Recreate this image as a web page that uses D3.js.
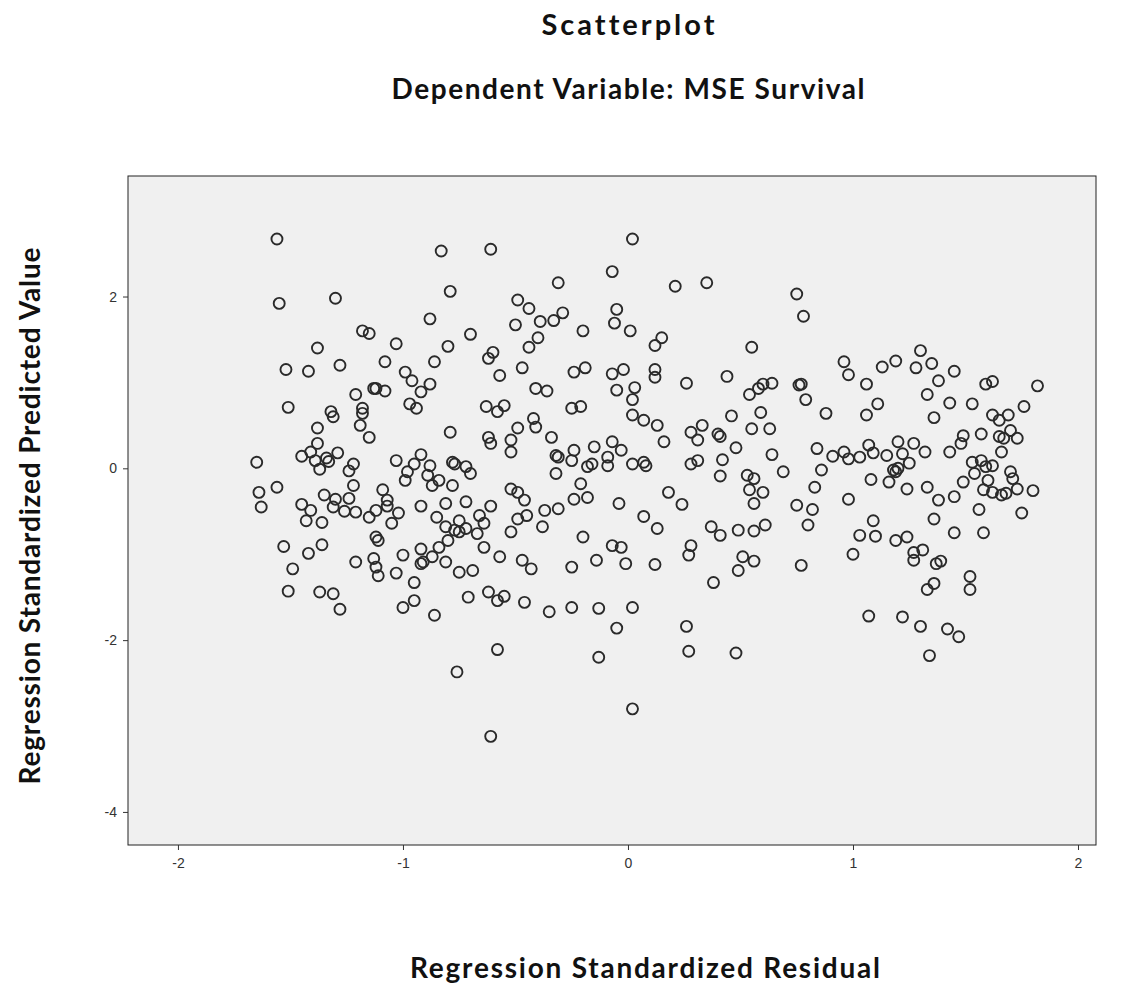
<!DOCTYPE html>
<html>
<head>
<meta charset="utf-8">
<script src="https://cdn.jsdelivr.net/npm/d3@7"></script>
<style>
  body { margin: 0; background: #fff; }
  text { font-family: "Liberation Sans", Arial, sans-serif; }
  .title { font-family: Lato, "Liberation Sans", sans-serif; font-weight: bold; fill: #111; font-variant-ligatures: none; }
</style>
</head>
<body>
<svg id="chart"></svg>
<script>
const title = "Scatterplot";
const subtitle = "Dependent Variable: MSE Survival";
const xTitle = "Regression Standardized Residual";
const yTitle = "Regression Standardized Predicted Value";

const xTicks = [-2, -1, 0, 1, 2];
const yTicks = [-4, -2, 0, 2];

// regression standardized residual (x)
const residual = [
  -1.56,-0.83,-1.55,-1.30,-0.79,-0.88,-1.18,-1.15,-1.38,-1.03,
  -0.80,-1.52,-1.42,-1.28,-1.08,-0.86,-0.99,-0.96,-0.88,-1.21,
  -1.13,-1.12,-1.08,-0.92,-0.61,0.02,-0.07,-0.31,-0.49,-0.44,
  -0.50,-0.39,-0.33,-0.29,-0.05,-0.06,0.01,-0.20,-0.70,-0.40,
  -0.44,-0.60,-0.62,-0.57,-0.47,-0.24,-0.19,-0.07,-0.02,-0.41,
  -0.36,-0.05,0.03,0.21,0.35,0.75,0.78,0.15,0.12,0.55,
  0.12,0.12,0.26,0.44,0.54,0.58,0.60,0.64,0.76,0.77,
  0.96,0.98,0.79,1.30,1.19,1.13,1.28,1.35,1.45,1.38,
  1.06,1.59,1.62,1.82,1.33,-1.51,-1.32,-1.31,-1.18,-1.18,
  -0.97,-0.94,-1.38,-1.19,-1.15,-1.38,-1.45,-1.41,-1.39,-1.34,
  -1.33,-1.29,-1.37,-1.65,-1.24,-1.22,-1.22,-1.03,-0.95,-0.98,
  -0.99,-0.92,-0.88,-0.89,-0.87,-0.84,-1.64,-1.56,-1.63,-1.35,
  -1.45,-1.41,-1.43,-1.36,-1.30,-1.31,-1.26,-1.24,-1.21,-1.09,
  -1.07,-1.07,-1.15,-1.12,-1.02,-1.05,-0.92,-0.85,-1.12,-1.11,
  -1.53,-1.36,-1.42,-1.21,-1.13,-1.12,-1.00,-0.92,-0.87,-0.92,
  -0.91,-0.84,-1.49,-1.11,-1.03,-0.63,-0.58,-0.55,-0.25,-0.21,
  0.02,0.07,0.02,-0.79,-0.62,-0.61,-0.52,-0.49,-0.52,-0.42,
  -0.41,-0.34,-0.32,-0.31,-0.32,-0.25,-0.24,-0.15,-0.18,-0.16,
  -0.07,-0.03,-0.09,-0.09,0.02,0.07,0.08,-0.78,-0.77,-0.72,
  -0.70,-0.78,-0.52,-0.49,-0.46,-0.21,-0.24,-0.18,-0.04,-0.81,
  -0.72,-0.61,-0.66,-0.75,-0.77,-0.75,-0.72,-0.64,-0.67,-0.81,
  -0.80,-0.49,-0.45,-0.37,-0.31,-0.38,-0.52,-0.64,-0.20,0.07,
  -0.07,-0.03,-0.01,-0.57,-0.47,-0.43,-0.25,-0.14,-0.81,-0.75,
  -0.69,0.13,0.16,0.28,0.33,0.31,0.40,0.41,0.46,0.55,
  0.59,0.63,0.48,0.42,0.28,0.31,0.64,0.41,0.53,0.56,
  0.54,0.60,0.56,0.69,0.88,0.84,0.91,0.96,0.98,0.86,
  0.83,0.18,0.24,0.75,0.82,0.80,0.98,0.13,0.37,0.41,
  0.49,0.56,0.61,0.28,0.27,0.51,0.56,0.49,0.77,0.12,
  1.00,1.11,1.06,1.36,1.43,1.53,1.76,1.62,1.65,1.69,
  1.57,1.49,1.48,1.43,1.65,1.67,1.70,1.73,1.66,1.20,
  1.27,1.07,1.09,1.03,1.15,1.22,1.25,1.32,1.18,1.19,
  1.20,1.08,1.16,1.24,1.33,1.38,1.45,1.49,1.53,1.57,
  1.59,1.62,1.54,1.60,1.58,1.62,1.66,1.68,1.70,1.71,
  1.73,1.80,1.56,1.75,1.36,1.09,1.03,1.10,1.19,1.24,
  1.45,1.58,1.27,1.31,1.27,1.37,1.39,1.52,-0.95,-0.95,
  -1.00,-0.86,-1.51,-1.37,-1.31,-1.28,-0.71,-0.62,-0.58,-0.55,
  -0.46,-0.35,-0.25,-0.13,0.02,-0.05,-0.58,-0.76,-0.13,0.02,
  -0.61,0.38,0.26,0.27,0.48,1.33,1.36,1.52,1.07,1.22,
  1.30,1.42,1.47,1.34
];

// regression standardized predicted value (y)
const predicted = [
  2.67,2.53,1.92,1.98,2.06,1.74,1.60,1.57,1.40,1.45,
  1.42,1.15,1.13,1.20,1.24,1.24,1.12,1.02,0.98,0.86,
  0.93,0.93,0.90,0.89,2.55,2.67,2.29,2.16,1.96,1.86,
  1.67,1.71,1.72,1.81,1.85,1.69,1.60,1.60,1.56,1.52,
  1.41,1.35,1.28,1.08,1.17,1.12,1.17,1.10,1.15,0.93,
  0.90,0.91,0.94,2.12,2.16,2.03,1.77,1.52,1.43,1.41,
  1.15,1.06,0.99,1.07,0.86,0.93,0.98,0.99,0.97,0.98,
  1.24,1.09,0.80,1.37,1.25,1.18,1.17,1.22,1.13,1.02,
  0.98,0.98,1.01,0.96,0.86,0.71,0.66,0.60,0.70,0.64,
  0.75,0.70,0.47,0.50,0.36,0.29,0.14,0.19,0.09,0.12,
  0.08,0.18,-0.01,0.07,-0.03,0.05,-0.20,0.09,0.05,-0.04,
  -0.14,0.16,0.03,-0.08,-0.20,-0.14,-0.28,-0.22,-0.45,-0.31,
  -0.42,-0.49,-0.61,-0.63,-0.36,-0.45,-0.50,-0.35,-0.51,-0.25,
  -0.37,-0.44,-0.57,-0.49,-0.52,-0.64,-0.44,-0.57,-0.80,-0.84,
  -0.91,-0.89,-0.99,-1.09,-1.05,-1.15,-1.01,-0.94,-1.03,-1.11,
  -1.09,-0.92,-1.17,-1.25,-1.22,0.72,0.66,0.73,0.70,0.72,
  0.62,0.56,0.80,0.42,0.36,0.29,0.33,0.47,0.19,0.58,
  0.48,0.36,0.15,0.13,-0.06,0.09,0.21,0.25,0.02,0.05,
  0.31,0.21,0.13,0.03,0.05,0.07,0.03,0.07,0.05,0.02,
  -0.06,-0.20,-0.24,-0.28,-0.37,-0.18,-0.36,-0.34,-0.41,-0.41,
  -0.39,-0.44,-0.55,-0.61,-0.72,-0.74,-0.70,-0.64,-0.76,-0.68,
  -0.84,-0.59,-0.55,-0.49,-0.47,-0.68,-0.74,-0.92,-0.80,-0.56,
  -0.90,-0.92,-1.11,-1.03,-1.07,-1.17,-1.15,-1.07,-1.09,-1.21,
  -1.19,0.50,0.31,0.42,0.50,0.33,0.40,0.37,0.61,0.46,
  0.65,0.46,0.24,0.10,0.05,0.09,0.16,-0.09,-0.08,-0.12,
  -0.25,-0.28,-0.41,-0.04,0.64,0.23,0.14,0.19,0.11,-0.02,
  -0.22,-0.28,-0.42,-0.43,-0.48,-0.66,-0.36,-0.70,-0.68,-0.78,
  -0.72,-0.73,-0.66,-0.90,-1.01,-1.03,-1.08,-1.19,-1.13,-1.12,
  -1.00,0.75,0.62,0.59,0.76,0.75,0.72,0.62,0.56,0.62,
  0.40,0.38,0.29,0.19,0.37,0.35,0.44,0.35,0.19,0.31,
  0.29,0.27,0.18,0.13,0.15,0.17,0.06,0.19,-0.02,-0.04,
  0.00,-0.13,-0.16,-0.24,-0.22,-0.37,-0.33,-0.16,0.07,0.09,
  0.02,0.03,-0.06,-0.14,-0.25,-0.28,-0.31,-0.29,-0.04,-0.12,
  -0.24,-0.26,-0.48,-0.52,-0.59,-0.61,-0.78,-0.79,-0.84,-0.80,
  -0.75,-0.75,-0.98,-0.95,-1.07,-1.11,-1.08,-1.26,-1.33,-1.54,
  -1.62,-1.71,-1.43,-1.44,-1.46,-1.64,-1.50,-1.44,-1.54,-1.49,
  -1.56,-1.67,-1.62,-1.63,-1.62,-1.86,-2.11,-2.37,-2.20,-2.80,
  -3.12,-1.33,-1.84,-2.13,-2.15,-1.41,-1.34,-1.41,-1.72,-1.73,
  -1.84,-1.87,-1.96,-2.18
];

const width = 1129, height = 983;
const plotLeft = 128, plotRight = 1096, plotTop = 176, plotBottom = 845;

const svg = d3.select("#chart")
  .attr("width", width)
  .attr("height", height);

const x = d3.scaleLinear().domain([-2.222, 2.08]).range([plotLeft, plotRight]);
const y = d3.scaleLinear().domain([-4.385, 3.403]).range([plotBottom, plotTop]);

// plot area
svg.append("rect")
  .attr("x", plotLeft)
  .attr("y", plotTop)
  .attr("width", plotRight - plotLeft)
  .attr("height", plotBottom - plotTop)
  .attr("fill", "#f0f0f0")
  .attr("stroke", "#222")
  .attr("stroke-width", 1);

const points = residual.map((r, i) => ({r: r, p: predicted[i]}));

svg.append("g")
  .selectAll("circle")
  .data(points)
  .enter()
  .append("circle")
  .attr("cx", d => x(d.r))
  .attr("cy", d => y(d.p))
  .attr("r", 5.5)
  .attr("fill", "none")
  .attr("stroke", "#2a2a2a")
  .attr("stroke-width", 1.9);

// axes
const xAxis = svg.append("g")
  .attr("transform", `translate(0,${plotBottom})`)
  .call(d3.axisBottom(x).tickValues(xTicks).tickSize(5).tickPadding(8).tickFormat(d3.format("d")));

const yAxis = svg.append("g")
  .attr("transform", `translate(${plotLeft},0)`)
  .call(d3.axisLeft(y).tickValues(yTicks).tickSize(5).tickPadding(6).tickFormat(d3.format("d")));

[xAxis, yAxis].forEach(a => {
  a.select(".domain").remove();
  a.selectAll(".tick line").attr("stroke", "#333");
  a.selectAll(".tick text")
    .style("font-family", "'Liberation Sans', Arial, sans-serif")
    .style("font-size", "14px")
    .attr("fill", "#333")
    .text(d => d < 0 ? "-" + Math.abs(d) : d);
});

// titles
svg.append("text")
  .attr("class", "title")
  .attr("x", 628)
  .attr("y", 35)
  .attr("text-anchor", "middle")
  .attr("textLength", 173)
  .attr("lengthAdjust", "spacing")
  .style("font-size", "29px")
  .text(title);

svg.append("text")
  .attr("class", "title")
  .attr("x", 628)
  .attr("y", 99)
  .attr("text-anchor", "middle")
  .attr("textLength", 473)
  .attr("lengthAdjust", "spacing")
  .style("font-size", "28px")
  .text(subtitle);

svg.append("text")
  .attr("class", "title")
  .attr("x", 645)
  .attr("y", 978)
  .attr("text-anchor", "middle")
  .attr("textLength", 470)
  .attr("lengthAdjust", "spacing")
  .style("font-size", "28px")
  .text(xTitle);

svg.append("text")
  .attr("class", "title")
  .attr("transform", "translate(40,516) rotate(-90)")
  .attr("text-anchor", "middle")
  .attr("textLength", 537)
  .attr("lengthAdjust", "spacing")
  .style("font-size", "28px")
  .text(yTitle);
</script>
</body>
</html>
